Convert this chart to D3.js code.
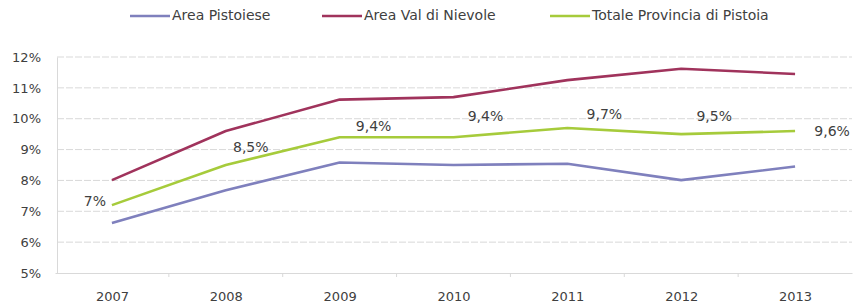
<html>
<head>
<script src="https://d3js.org/d3.v7.min.js"></script>
<style>
  body { margin: 0; background: #fff; }
  text { font-family: "DejaVu Sans", sans-serif; fill: #404040; }
</style>
</head>
<body>
<div id="chart_area"></div>
<script>
// data
let years = ["2007", "2008", "2009", "2010", "2011", "2012", "2013"];
let seriesNames = ["Area Pistoiese", "Area Val di Nievole", "Totale Provincia di Pistoia"];
let pistoiese = [6.62, 7.68, 8.58, 8.5, 8.54, 8.01, 8.45];
let valdinievole = [8.01, 9.6, 10.62, 10.7, 11.25, 11.62, 11.45];
let totale = [7.2, 8.5, 9.4, 9.4, 9.7, 9.5, 9.6];
let totaleLabels = ["7%", "8,5%", "9,4%", "9,4%", "9,7%", "9,5%", "9,6%"];
let yTicks = [5, 6, 7, 8, 9, 10, 11, 12];

let colors = ["#7f80bd", "#a0335c", "#a6cb3b"];
let allSeries = [pistoiese, valdinievole, totale];

let width = 855, height = 308;
let margin = {left: 55, right: 3, top: 57, bottom: 35};

let svg = d3.select("#chart_area").append("svg")
    .attr("width", width)
    .attr("height", height);

let x = d3.scalePoint()
    .domain(years)
    .range([margin.left, width - margin.right])
    .padding(0.5);

let y = d3.scaleLinear()
    .domain([5, 12])
    .range([height - margin.bottom, margin.top]);

// gridlines
svg.append("g")
    .selectAll("line")
    .data(yTicks.filter(d => d > 5))
    .join("line")
    .attr("x1", margin.left + 2)
    .attr("x2", width - margin.right)
    .attr("y1", d => y(d))
    .attr("y2", d => y(d))
    .attr("stroke", "#d9d9d9")
    .attr("stroke-dasharray", "7,2");

// y axis
let yAxis = svg.append("g")
    .attr("transform", `translate(${margin.left + 2},0)`)
    .call(d3.axisLeft(y).tickValues(yTicks).tickFormat(d => d + "%").tickSize(0).tickPadding(16));
yAxis.select(".domain").attr("stroke", "#d9d9d9");
yAxis.selectAll("text").style("font-size", "13px").attr("fill", "#404040");

// x axis
let step = x.step();
let xAxis = svg.append("g")
    .attr("transform", `translate(0,${y(5)})`)
    .call(d3.axisBottom(x).tickSize(0).tickPadding(19));
xAxis.select(".domain").attr("stroke", "#d9d9d9");
xAxis.selectAll("text").style("font-size", "13px").attr("fill", "#404040");
xAxis.selectAll(".minor")
    .data(years.slice(1))
    .join("line")
    .attr("class", "minor")
    .attr("x1", d => x(d) - step / 2)
    .attr("x2", d => x(d) - step / 2)
    .attr("y1", 0)
    .attr("y2", 4)
    .attr("stroke", "#d9d9d9");

// lines
let line = d3.line()
    .x((d, i) => x(years[i]))
    .y(d => y(d));

svg.selectAll(".series")
    .data(allSeries)
    .join("path")
    .attr("class", "series")
    .attr("d", d => line(d))
    .attr("fill", "none")
    .attr("stroke", (d, i) => colors[i])
    .attr("stroke-width", 2.6)
    .attr("stroke-linejoin", "round");

// data labels for totale
let labelOffsets = [[-17, -3], [25, -17], [34, -10], [32, -20], [37, -13], [33, -17], [37, 1]];
svg.selectAll(".dlabel")
    .data(totale)
    .join("text")
    .attr("class", "dlabel")
    .attr("x", (d, i) => x(years[i]) + labelOffsets[i][0])
    .attr("y", (d, i) => y(d) + labelOffsets[i][1])
    .attr("text-anchor", "middle")
    .attr("dominant-baseline", "middle")
    .style("font-size", "14px")
    .text((d, i) => totaleLabels[i]);

// legend
let legendX = [130, 322, 550];
let legend = svg.selectAll(".legend")
    .data(seriesNames)
    .join("g")
    .attr("class", "legend")
    .attr("transform", (d, i) => `translate(${legendX[i]},16)`);
legend.append("line")
    .attr("x1", 0).attr("x2", 40)
    .attr("stroke", (d, i) => colors[i])
    .attr("stroke-width", 2.6);
legend.append("text")
    .attr("x", 42)
    .attr("dominant-baseline", "middle")
    .style("font-size", "14px")
    .text(d => d);
</script>
</body>
</html>
